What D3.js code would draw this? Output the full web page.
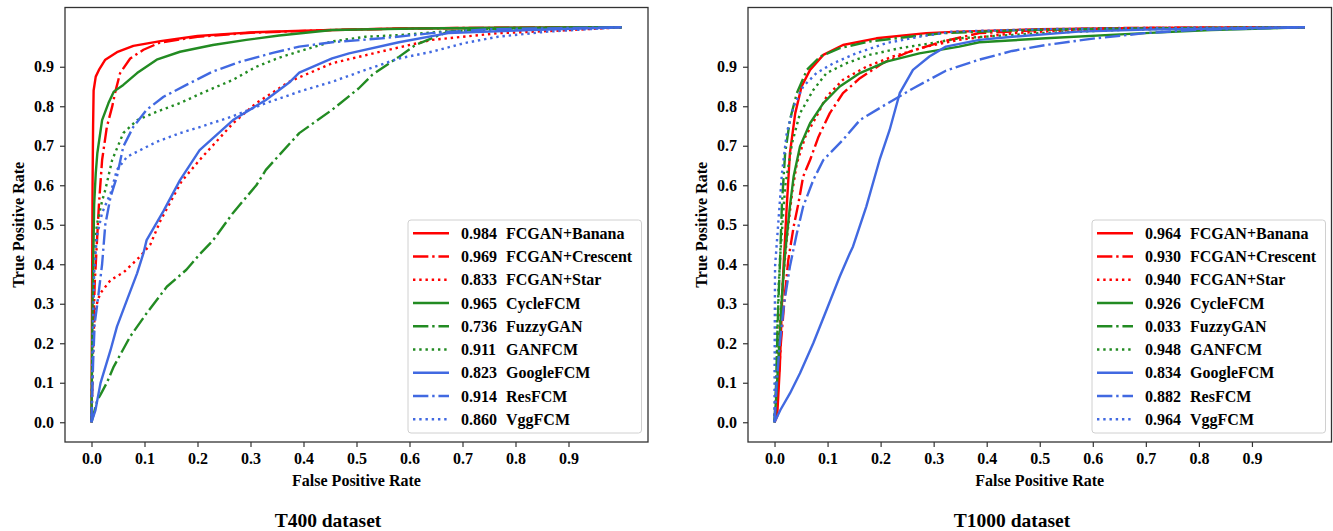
<!DOCTYPE html>
<html>
<head>
<meta charset="utf-8">
<script src="https://cdn.jsdelivr.net/npm/d3@7"></script>
<style>
    body { margin: 0; background: #fff; }
    svg { display: block; }
    text { font-family: "Liberation Serif", "Times New Roman", "DejaVu Serif", serif; font-weight: bold; fill: #000; }
</style>
</head>
<body>
<div id="chart"></div>
<script>
// legend / series meta (same order for both panels)
let seriesNames = ['FCGAN+Banana', 'FCGAN+Crescent', 'FCGAN+Star', 'CycleFCM', 'FuzzyGAN', 'GANFCM', 'GoogleFCM', 'ResFCM', 'VggFCM'];
let seriesColors = ['#ff0000', '#ff0000', '#ff0000', '#228b22', '#228b22', '#228b22', '#4169e1', '#4169e1', '#4169e1'];
let seriesStyles = ['solid', 'dashdot', 'dotted', 'solid', 'dashdot', 'dotted', 'solid', 'dashdot', 'dotted'];

let t400Auc = ['0.984', '0.969', '0.833', '0.965', '0.736', '0.911', '0.823', '0.914', '0.860'];
let t1000Auc = ['0.964', '0.930', '0.940', '0.926', '0.033', '0.948', '0.834', '0.882', '0.964'];

let xTicks = [0, 0.1, 0.2, 0.3, 0.4, 0.5, 0.6, 0.7, 0.8, 0.9];
let yTicks = [0, 0.1, 0.2, 0.3, 0.4, 0.5, 0.6, 0.7, 0.8, 0.9];

// ROC points [fpr, tpr]
let t400Banana = [[0,0],[0.001,0.3],[0.002,0.6],[0.003,0.75],[0.004,0.84],[0.008,0.875],[0.014,0.892],[0.026,0.918],[0.048,0.937],[0.079,0.953],[0.13,0.965],[0.2,0.978],[0.3,0.987],[0.4,0.991],[0.58,0.997],[0.8,0.999],[1,1]];
let t400Crescent = [[0,0],[0.003,0.2],[0.006,0.35],[0.01,0.45],[0.014,0.55],[0.02,0.664],[0.029,0.748],[0.039,0.799],[0.045,0.837],[0.054,0.884],[0.073,0.921],[0.098,0.943],[0.129,0.961],[0.2,0.976],[0.3,0.986],[0.45,0.993],[0.6,0.997],[0.8,0.999],[1,1]];
let t400Star = [[0,0],[0.002,0.15],[0.005,0.25],[0.0075,0.284],[0.012,0.31],[0.017,0.327],[0.036,0.36],[0.061,0.38],[0.092,0.42],[0.111,0.45],[0.13,0.51],[0.15,0.56],[0.17,0.61],[0.204,0.664],[0.267,0.757],[0.311,0.808],[0.373,0.862],[0.454,0.909],[0.548,0.939],[0.642,0.968],[0.767,0.985],[0.892,0.992],[1,1]];
let t400Cycle = [[0,0],[0.002,0.3],[0.005,0.55],[0.008,0.63],[0.011,0.681],[0.02,0.765],[0.032,0.808],[0.042,0.837],[0.06,0.854],[0.086,0.884],[0.123,0.918],[0.167,0.938],[0.229,0.955],[0.292,0.968],[0.354,0.979],[0.454,0.993],[0.61,0.997],[0.8,0.999],[1,1]];
let t400Fuzzy = [[0,0],[0.011,0.056],[0.017,0.07],[0.029,0.1],[0.042,0.141],[0.073,0.217],[0.104,0.276],[0.142,0.343],[0.179,0.386],[0.204,0.425],[0.229,0.46],[0.267,0.53],[0.311,0.6],[0.329,0.639],[0.392,0.732],[0.454,0.791],[0.504,0.845],[0.53,0.88],[0.58,0.925],[0.611,0.955],[0.673,0.989],[0.75,0.996],[1,1]];
let t400Ganfcm = [[0,0],[0.002,0.2],[0.005,0.4],[0.01,0.5],[0.02,0.56],[0.026,0.588],[0.039,0.664],[0.06,0.732],[0.086,0.765],[0.123,0.786],[0.167,0.808],[0.211,0.835],[0.267,0.867],[0.311,0.9],[0.354,0.923],[0.392,0.939],[0.454,0.964],[0.517,0.976],[0.58,0.98],[0.673,0.99],[0.8,0.997],[1,1]];
let t400Google = [[0,0],[0.0075,0.031],[0.017,0.099],[0.036,0.183],[0.048,0.242],[0.067,0.31],[0.086,0.377],[0.098,0.428],[0.104,0.461],[0.136,0.535],[0.167,0.613],[0.204,0.689],[0.267,0.765],[0.329,0.816],[0.373,0.86],[0.392,0.885],[0.454,0.921],[0.486,0.934],[0.58,0.962],[0.673,0.985],[0.829,0.993],[1,1]];
let t400Res = [[0,0],[0.003,0.15],[0.006,0.25],[0.011,0.3],[0.02,0.4],[0.026,0.5],[0.036,0.571],[0.048,0.622],[0.06,0.698],[0.079,0.748],[0.104,0.791],[0.136,0.824],[0.179,0.854],[0.229,0.888],[0.279,0.912],[0.342,0.935],[0.392,0.951],[0.454,0.962],[0.548,0.972],[0.642,0.985],[0.75,0.995],[1,1]];
let t400Vgg = [[0,0],[0.002,0.2],[0.005,0.38],[0.01,0.47],[0.02,0.53],[0.036,0.58],[0.048,0.639],[0.067,0.672],[0.092,0.689],[0.123,0.71],[0.167,0.732],[0.211,0.75],[0.267,0.775],[0.329,0.808],[0.392,0.837],[0.454,0.862],[0.517,0.892],[0.58,0.921],[0.642,0.938],[0.704,0.96],[0.767,0.976],[0.861,0.989],[1,1]];

// ROC points [fpr, tpr]
let t1000Banana = [[0,0],[0.005,0.015],[0.01,0.14],[0.014,0.3],[0.017,0.394],[0.023,0.546],[0.029,0.681],[0.039,0.782],[0.051,0.85],[0.067,0.892],[0.092,0.93],[0.129,0.955],[0.192,0.972],[0.286,0.985],[0.348,0.989],[0.5,0.995],[0.7,0.998],[1,1]];
let t1000Crescent = [[0,0],[0.005,0.05],[0.012,0.2],[0.02,0.33],[0.026,0.411],[0.036,0.495],[0.045,0.554],[0.054,0.622],[0.067,0.664],[0.083,0.723],[0.104,0.782],[0.129,0.833],[0.161,0.871],[0.205,0.91],[0.254,0.938],[0.317,0.964],[0.386,0.985],[0.5,0.993],[0.65,0.998],[1,1]];
let t1000Star = [[0,0],[0.004,0.1],[0.01,0.25],[0.016,0.36],[0.023,0.462],[0.033,0.58],[0.042,0.655],[0.058,0.723],[0.079,0.774],[0.098,0.824],[0.129,0.867],[0.173,0.9],[0.223,0.926],[0.286,0.951],[0.348,0.968],[0.45,0.985],[0.55,0.992],[0.7,0.998],[1,1]];
let t1000Cycle = [[0,0],[0.004,0.08],[0.009,0.2],[0.014,0.32],[0.02,0.428],[0.029,0.546],[0.036,0.622],[0.048,0.698],[0.067,0.757],[0.092,0.808],[0.123,0.85],[0.161,0.884],[0.211,0.913],[0.273,0.934],[0.348,0.951],[0.386,0.962],[0.511,0.972],[0.698,0.985],[0.823,0.993],[1,1]];
let t1000Fuzzy = [[0,0],[0.003,0.1],[0.006,0.25],[0.008,0.33],[0.01,0.394],[0.014,0.554],[0.02,0.681],[0.029,0.765],[0.042,0.833],[0.061,0.892],[0.086,0.926],[0.123,0.947],[0.179,0.964],[0.254,0.976],[0.317,0.985],[0.45,0.992],[0.6,0.996],[1,1]];
let t1000Ganfcm = [[0,0],[0.002,0.1],[0.005,0.25],[0.008,0.35],[0.011,0.428],[0.02,0.597],[0.033,0.706],[0.048,0.782],[0.073,0.841],[0.098,0.884],[0.136,0.909],[0.179,0.93],[0.236,0.947],[0.298,0.96],[0.348,0.972],[0.5,0.985],[0.65,0.993],[0.8,0.998],[1,1]];
let t1000Google = [[0,0],[0.011,0.031],[0.029,0.073],[0.048,0.124],[0.073,0.2],[0.098,0.284],[0.123,0.369],[0.142,0.428],[0.148,0.445],[0.173,0.546],[0.198,0.664],[0.217,0.74],[0.236,0.833],[0.261,0.892],[0.292,0.926],[0.323,0.951],[0.386,0.968],[0.448,0.976],[0.573,0.989],[0.7,0.994],[1,1]];
let t1000Res = [[0,0],[0.004,0.1],[0.01,0.2],[0.018,0.3],[0.029,0.394],[0.042,0.478],[0.054,0.546],[0.073,0.613],[0.092,0.664],[0.129,0.715],[0.161,0.765],[0.204,0.8],[0.261,0.845],[0.323,0.89],[0.386,0.918],[0.448,0.94],[0.511,0.955],[0.605,0.972],[0.698,0.985],[0.792,0.993],[1,1]];
let t1000Vgg = [[0,0],[0,0.1],[0.0005,0.25],[0.001,0.394],[0.0075,0.512],[0.014,0.63],[0.023,0.732],[0.036,0.799],[0.054,0.85],[0.079,0.884],[0.111,0.909],[0.154,0.934],[0.211,0.96],[0.273,0.976],[0.336,0.989],[0.5,0.995],[0.7,0.998],[1,1]];

let panels = [
    {
        title: 'T400 dataset',
        auc: t400Auc,
        curves: [t400Banana, t400Crescent, t400Star, t400Cycle, t400Fuzzy, t400Ganfcm, t400Google, t400Res, t400Vgg],
        left: 65, right: 648, titleX: 328, yLabelX: 24, legendX: 408
    },
    {
        title: 'T1000 dataset',
        auc: t1000Auc,
        curves: [t1000Banana, t1000Crescent, t1000Star, t1000Cycle, t1000Fuzzy, t1000Ganfcm, t1000Google, t1000Res, t1000Vgg],
        left: 748, right: 1331.5, titleX: 1012, yLabelX: 707, legendX: 1092
    }
];

let width = 1333, height = 531;
let plotTop = 7.5, plotBottom = 442;
let lw = 2.4;
let dashes = {
    solid: null,
    dashdot: [6.4 * lw, 1.6 * lw, 1 * lw, 1.6 * lw].join(','),
    dotted: [1 * lw, 1.6 * lw].join(',')
};

let svg = d3.select('#chart').append('svg')
    .attr('width', width)
    .attr('height', height);

panels.forEach(function (p) {
    let xScale = d3.scaleLinear().domain([-0.05, 1.05]).range([p.left, p.right]);
    let yScale = d3.scaleLinear().domain([-0.05, 1.05]).range([plotBottom, plotTop]); // y goes downwards

    let g = svg.append('g');

    // axes with outward ticks
    let xAxis = d3.axisBottom(xScale).tickValues(xTicks).tickFormat(d3.format('.1f')).tickSize(5).tickPadding(6);
    let yAxis = d3.axisLeft(yScale).tickValues(yTicks).tickFormat(d3.format('.1f')).tickSize(5).tickPadding(6);

    let gx = g.append('g').attr('transform', 'translate(0,' + plotBottom + ')').call(xAxis);
    let gy = g.append('g').attr('transform', 'translate(' + p.left + ',0)').call(yAxis);
    [gx, gy].forEach(function (a) {
        a.select('.domain').remove();
        a.selectAll('.tick line').attr('stroke', '#333').attr('stroke-width', 1.2);
        a.selectAll('.tick text')
            .attr('font-family', '"Liberation Serif", "Times New Roman", serif')
            .attr('font-weight', 'bold')
            .attr('font-size', 16)
            .attr('fill', '#000');
    });

    // curves
    let line = d3.line()
        .x(function (d) { return xScale(d[0]); })
        .y(function (d) { return yScale(d[1]); });

    p.curves.forEach(function (pts, i) {
        g.append('path')
            .datum(pts)
            .attr('fill', 'none')
            .attr('stroke', seriesColors[i])
            .attr('stroke-width', lw)
            .attr('stroke-linejoin', 'round')
            .attr('stroke-dasharray', dashes[seriesStyles[i]])
            .attr('d', line);
    });

    // frame
    g.append('rect')
        .attr('x', p.left)
        .attr('y', plotTop)
        .attr('width', p.right - p.left)
        .attr('height', plotBottom - plotTop)
        .attr('fill', 'none')
        .attr('stroke', '#333')
        .attr('stroke-width', 1.3);

    // labels
    g.append('text')
        .attr('x', (p.left + p.right) / 2)
        .attr('y', 486)
        .attr('text-anchor', 'middle')
        .attr('font-size', 16)
        .text('False Positive Rate');

    g.append('text')
        .attr('transform', 'translate(' + p.yLabelX + ',' + ((plotTop + plotBottom) / 2) + ') rotate(-90)')
        .attr('text-anchor', 'middle')
        .attr('font-size', 16)
        .text('True Positive Rate');

    g.append('text')
        .attr('x', p.titleX)
        .attr('y', 527)
        .attr('text-anchor', 'middle')
        .attr('font-size', 19.5)
        .text(p.title);

    // legend
    let lgX = p.legendX, lgY = 220, rowH = 23.25;
    let lg = g.append('g');
    lg.append('rect')
        .attr('x', lgX)
        .attr('y', lgY)
        .attr('width', 233.5)
        .attr('height', 213)
        .attr('rx', 3)
        .attr('fill', '#fff')
        .attr('fill-opacity', 0.8)
        .attr('stroke', '#d0d0d0')
        .attr('stroke-width', 1);

    seriesNames.forEach(function (name, i) {
        let cy = lgY + 13.3 + i * rowH;
        lg.append('line')
            .attr('x1', lgX + 5)
            .attr('x2', lgX + 41)
            .attr('y1', cy)
            .attr('y2', cy)
            .attr('stroke', seriesColors[i])
            .attr('stroke-width', lw)
            .attr('stroke-dasharray', dashes[seriesStyles[i]]);
        lg.append('text')
            .attr('x', lgX + 53)
            .attr('y', cy + 5.5)
            .attr('font-size', 16)
            .text(p.auc[i]);
        lg.append('text')
            .attr('x', lgX + 98)
            .attr('y', cy + 5.5)
            .attr('font-size', 16)
            .text(name);
    });
});
</script>
</body>
</html>
